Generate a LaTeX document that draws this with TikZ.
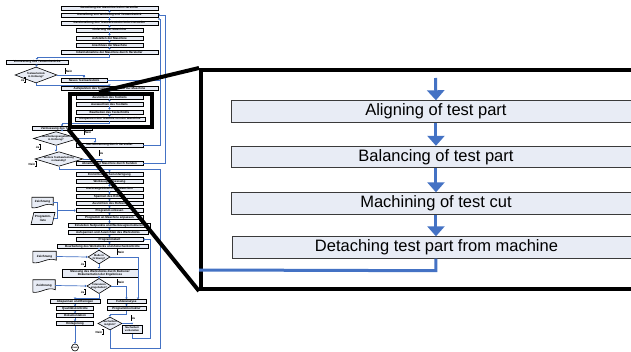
\documentclass[tikz,border=0pt]{standalone}
\usepackage{fontspec}
\setmainfont{Liberation Sans}
\usetikzlibrary{arrows.meta,shapes.geometric,calc,backgrounds}
\definecolor{fl}{HTML}{4472C4}
\definecolor{boxfill}{HTML}{E8ECF5}
\definecolor{boxline}{HTML}{3A3A3A}
\newcommand\jnR[3]{\node[lab,anchor=west] (#1) at (#2) {#3};
  \draw[brk] ([xshift=1pt]#1.north west) -- (#1.north west) -- (#1.south west) -- ([xshift=1pt]#1.south west);}
\newcommand\jnL[3]{\node[lab,anchor=east] (#1) at (#2) {#3};
  \draw[brk] ([xshift=-1pt]#1.north east) -- (#1.north east) -- (#1.south east) -- ([xshift=-1pt]#1.south east);}
\begin{document}
\begin{tikzpicture}[x=1pt,y=-1pt,
  row/.style={draw=black,line width=0.7pt,fill=boxfill,minimum height=4pt,inner sep=0pt,font=\fontsize{3}{3.2}\selectfont\bfseries},
  dia/.style={diamond,aspect=3.2,draw=black,line width=0.6pt,fill=boxfill,inner sep=0pt,align=center,font=\fontsize{2.6}{2.7}\selectfont\bfseries},
  docsh/.style={draw=black,line width=0.6pt,fill=boxfill},
  doctxt/.style={inner sep=0pt,font=\fontsize{3}{3.2}\selectfont\bfseries,align=center},
  fw/.style={draw=fl,line width=0.7pt},
  fa/.style={fw,-{Triangle[width=2.4pt,length=1.6pt]}},
  lab/.style={inner sep=0.6pt,minimum height=4.5pt,font=\fontsize{3}{3.2}\selectfont\bfseries},
  brk/.style={draw=black,line width=0.5pt},
  endc/.style={circle,draw=black,line width=0.6pt,fill=white,minimum size=7pt,inner sep=0pt,font=\fontsize{2.2}{2.2}\selectfont\bfseries},
  big/.style={draw=boxline,line width=0.9pt,fill=boxfill,minimum height=21.5pt,inner sep=0pt,font=\fontsize{16.5}{18}\selectfont},
  bfw/.style={draw=fl,line width=3pt},
  bfa/.style={bfw,-{Triangle[width=17pt,length=10pt]}},
  zoomline/.style={draw=black,line width=4pt},
]
\useasboundingbox (0,0) rectangle (631,352);
\clip (0,0) rectangle (631,352);

% ---------------- left flowchart ----------------
\node[row,minimum width=97] (r1) at (109.5,8) {Bestellung der Maschine beim Hersteller};
\node[row,minimum width=97] (r2) at (109.5,15) {Bestellung von Werkzeug und Testwerkstück};
\node[row,minimum width=97] (r3) at (109.5,23) {Bereitstellung des Testwerkstücks beim Hersteller};
\node[row,minimum width=67] (r4) at (109.5,30) {Lieferung der Maschine};
\node[row,minimum width=67] (r5) at (109.5,38) {Aufstellen der Maschine};
\node[row,minimum width=67] (r6) at (109.5,45) {Anschluss der Maschine};
\node[row,minimum width=97] (r7) at (109.5,52) {Inbetriebnahme der Maschine durch Hersteller};
\node[row,minimum width=62] (r8) at (37,62) {Vermessung des Testwerkstücks};
\node[dia,minimum width=42,minimum height=16] (d1) at (36,75) {Testwerkstück\\in Ordnung?};
\node[row,minimum width=46] (rA) at (84,80) {Neues Testwerkstück};
\node[row,minimum width=97] (r9) at (109.5,88.5) {Aufspannen des Testwerkstücks auf der Maschine};
\node[row,minimum width=67] (s1) at (109.5,97) {Ausrichten des Testteils};
\node[row,minimum width=67] (s2) at (109.5,104) {Auswuchten des Testteils};
\node[row,minimum width=67] (s3) at (109.5,112) {Bearbeiten des Testschnitts};
\node[row,minimum width=70] (s4) at (110,119) {Abspannen des Testteils von der Maschine};
\node[row,minimum width=60] (r10) at (62,128.5) {Vermessung des Testschnitts};
\node[dia,minimum width=45,minimum height=13] (d2) at (56,138.5) {Bearbeitungsergebnis\\in Ordnung?};
\node[row,minimum width=67] (rN) at (109.5,145) {Nachbesserung durch Hersteller};
\node[dia,minimum width=48,minimum height=14] (d3) at (59,159) {Weitere Testbearbeitung\\notwendig?};
\node[row,minimum width=67] (rB) at (109.5,163.5) {Abnahme der Maschine durch Kunden};

\node[row,minimum width=67] (q1) at (109.5,174.5) {Einrichten für Serienfertigung};
\node[row,minimum width=67] (q2) at (109.5,181.5) {Werkzeugvermessung};
\node[row,minimum width=67] (q3) at (109.5,189) {Werkzeugeinbau in die Maschine};
\node[row,minimum width=67] (q4) at (109.5,196.5) {Spannen des Rohteils};
\node[row,minimum width=67] (q5) at (109.5,203.5) {Ausrichten des Rohteils};
\node[row,minimum width=67] (q6) at (109.5,210.5) {Programm einlesen};
\node[row,minimum width=67] (q7) at (109.5,217.5) {Programm an Maschine anpassen};
\node[row,minimum width=82] (q8) at (109,225.5) {Einstellen Nullpunkte und Werkzeugkorrekturen};
\node[row,minimum width=80] (q9) at (108,232.5) {Aufspannen und Ausrichten des Werkstücks};
\node[row,minimum width=67] (q10) at (109.5,239.5) {Programmstart};
\node[row,minimum width=91] (q11) at (102.5,246.5) {Bearbeitung des Werkstücks und Zwischenkontrolle};

\node[doctxt,minimum width=21,minimum height=9] (z1) at (42.5,202) {Zeichnung};
\node[trapezium,trapezium left angle=65,trapezium right angle=115,trapezium stretches=true,
      draw=black,line width=0.6pt,fill=boxfill,minimum width=24,minimum height=12,inner sep=0pt,
      align=center,font=\fontsize{3}{3.2}\selectfont\bfseries] (pl) at (43,218.5) {Programm-\\liste};
\node[dia,aspect=1.6,minimum width=22,minimum height=14] (e1) at (99,257) {Maße in\\Ordnung?};
\node[doctxt,minimum width=23,minimum height=10] (z2) at (44.5,256.5) {Zeichnung};
\node[row,minimum width=76,minimum height=8,align=center] (T) at (100,273) {Messung des Werkstücks durch Bediener\\Dokumentation der Ergebnisse};
\node[dia,aspect=1.6,minimum width=22,minimum height=14] (e2) at (99,286) {Toleranzen\\eingehalten?};
\node[doctxt,minimum width=22,minimum height=11] (z3) at (44,285.5) {Zeichnung};
\node[row,minimum width=50] (L1) at (75,301.5) {Abspannen und Reinigen};
\node[row,minimum width=37] (L2) at (75,308.5) {Qualitätskontrolle};
\node[row,minimum width=37] (L3) at (75,315.5) {Dokumentation};
\node[row,minimum width=37] (L4) at (75,323.5) {Einlagerung};
\node[endc] (E) at (75,347.5) {Ende};
\node[row,minimum width=39] (R1) at (126.5,301.5) {Fehleranalyse};
\node[row,minimum width=39] (R2) at (126.5,308.5) {Programmkorrektur};
\node[dia,aspect=1.8,minimum width=24,minimum height=13] (e3) at (110,323.5) {Nacharbeit\\möglich?};
\node[row,line width=1pt,minimum width=20,minimum height=8,align=center,font=\fontsize{2.6}{2.8}\selectfont\bfseries] (X) at (132,329) {Nacharbeit\\vorbereiten};

\begin{scope}[on background layer]
\foreach \z in {z1,z2,z3}
  \draw[docsh] (\z.north west) -- (\z.north east) -- ($(\z.south east)+(0,-1.5)$)
     .. controls ($(\z.south)+(4,-5)$) and ($(\z.south)+(-4,2.5)$) .. ($(\z.south west)+(0,1)$) -- cycle;
\end{scope}

% connectors
\draw[fa] (r1.south) -- (r2.north);
\draw[fa] (r2.south) -- (r3.north);
\draw[fa] (r3.south) -- (r4.north);
\draw[fa] (r4.south) -- (r5.north);
\draw[fa] (r5.south) -- (r6.north);
\draw[fa] (r6.south) -- (r7.north);
\draw[fa] (r7.south) -- ++(0,3) -| (r8.north);
\draw[fa] (r8.south) -- (d1.north);
\draw[fa] (d1.east) -| (rA.north);
\draw[fa] (d1.south) -- ++(0,2) -| (r9.north);
\draw[fa] (r9.south) -- (s1.north);
\draw[fa] (s1.south) -- (s2.north);
\draw[fa] (s2.south) -- (s3.north);
\draw[fa] (s3.south) -- (s3.south |- s4.north);
\draw[fa] (s3.south |- s4.south) -- ++(0,2.5) -| (r10.north);
\draw[fa] (r10.south) -- (r10.south |- d2.north);
\draw[fa] (d2.east) -| ([xshift=-14.5pt]rN.north);
\draw[fa] (d2.south) -- (d2.south |- d3.north);
\draw[fa] (d3.east) -| ([xshift=-8pt]rB.north);
\draw[fa] (d3.south) -- ++(0,3) coordinate (c2) -| (q1.north);
\coordinate (j1) at (158,19);
\draw[fa] (rN.east) -- ++(16.5,0) |- (j1);
\draw[fw] (rA.east) -- ++(52.5,0);
\draw[fa] (rB.east) -- ++(22,0) |- (r2.east);
\draw[fa] (q1.south) -- (q2.north);
\draw[fa] (q2.south) -- (q3.north);
\draw[fa] (q3.south) -- (q4.north);
\draw[fa] (q4.south) -- (q5.north);
\draw[fa] (q5.south) -- (q6.north);
\draw[fa] (q6.south) -- (q7.north);
\draw[fa] (q7.south) -- (q7.south |- q8.north);
\draw[fa] (q7.south |- q8.south) -- (q7.south |- q9.north);
\draw[fa] (q7.south |- q9.south) -- (q10.north);
\draw[fa] (q10.south) -- (q10.south |- q11.north);
\coordinate (m1) at (57,210.5);
\draw[fw] (z1.east) -| (m1);
\draw[fw] (pl.east) -| (m1);
\draw[fa] (m1) -- (q6.west);
\draw[fa] (e1.north |- q11.south) -- (e1.north);
\draw[fa] (z2.east) -- (e1.west);
\draw[fa] (e1.south) -- (e1.south |- T.north);
\draw[fa] (e1.south |- T.south) -- (e2.north);
\draw[fa] (z3.east) -- (e2.west);
\draw[fa] (e1.east) -| ([xshift=11.5pt]R1.north);
\draw[fa] (e2.east) -| (R1.north);
\draw[fa] (e2.south) -- ++(0,4) -| (L1.north);
\draw[fa] (L1.south) -- (L2.north);
\draw[fa] (L2.south) -- (L3.north);
\draw[fa] (L3.south) -- (L4.north);
\draw[fa] (L4.south) -- (E.north);
\draw[fa] (R1.south) -- (R2.north);
\draw[fa] (R2.south) -- ++(0,3) -| (e3.north);
\draw[fa] (e3.east) -| (X.north);
\coordinate (c1) at (160,348);
\draw[fw] (e3.south) |- (c1) |- (c2);
\coordinate (c3) at (150,338);
\draw[fa] (X.south) |- (c3) |- (q10.east);

% yes / no labels
\jnR{l1}{65,71}{Nein}
\jnL{l2}{25,80}{Ja}
\jnR{l3}{84,132}{Nein}
\jnL{l4}{40,147}{Ja}
\jnR{l5}{99,153}{Ja}
\jnL{l6}{36,164}{Nein}
\jnR{l7}{117,252}{Nein}
\jnL{l8}{85,264}{Ja}
\jnR{l9}{117,282}{Nein}
\jnL{l10}{85,292}{Ja}
\jnR{l11}{131,318}{Ja}
\jnL{l12}{103,332}{Nein}

% ---------------- zoom frame ----------------
\node[zoomline,minimum width=82,minimum height=33,inner sep=0pt,anchor=north west] (zs) at (68,92) {};
\node[zoomline,fill=white,minimum width=561,minimum height=219,inner sep=0pt,anchor=north west] (frame) at (199,68) {};
\draw[zoomline] ($(zs.north west)!0.36!(zs.north east)$) -- (frame.north west);
\draw[zoomline] (zs.south west) -- (frame.south west);

\node[big,minimum width=409,anchor=west] (A) at (231,111.5) {Aligning of test part};
\node[big,minimum width=409,anchor=west] (B) at (231,157) {Balancing of test part};
\node[big,minimum width=409,anchor=west] (C) at (231,203.5) {Machining of test cut};
\node[big,minimum width=408,anchor=west] (D) at (232,247.5) {Detaching test part from machine};
\coordinate (t0) at (435.5,78);
\draw[bfa] (t0) -- (A.north);
\draw[bfa] (A.south) -- (B.north);
\draw[bfa] (B.south) -- (C.north);
\draw[bfa] (C.south) -- (C.south |- D.north);
\draw[bfw] (C.south |- D.south) -- ++(0,12) -- (frame.west |- 0,270);
\end{tikzpicture}
\end{document}
